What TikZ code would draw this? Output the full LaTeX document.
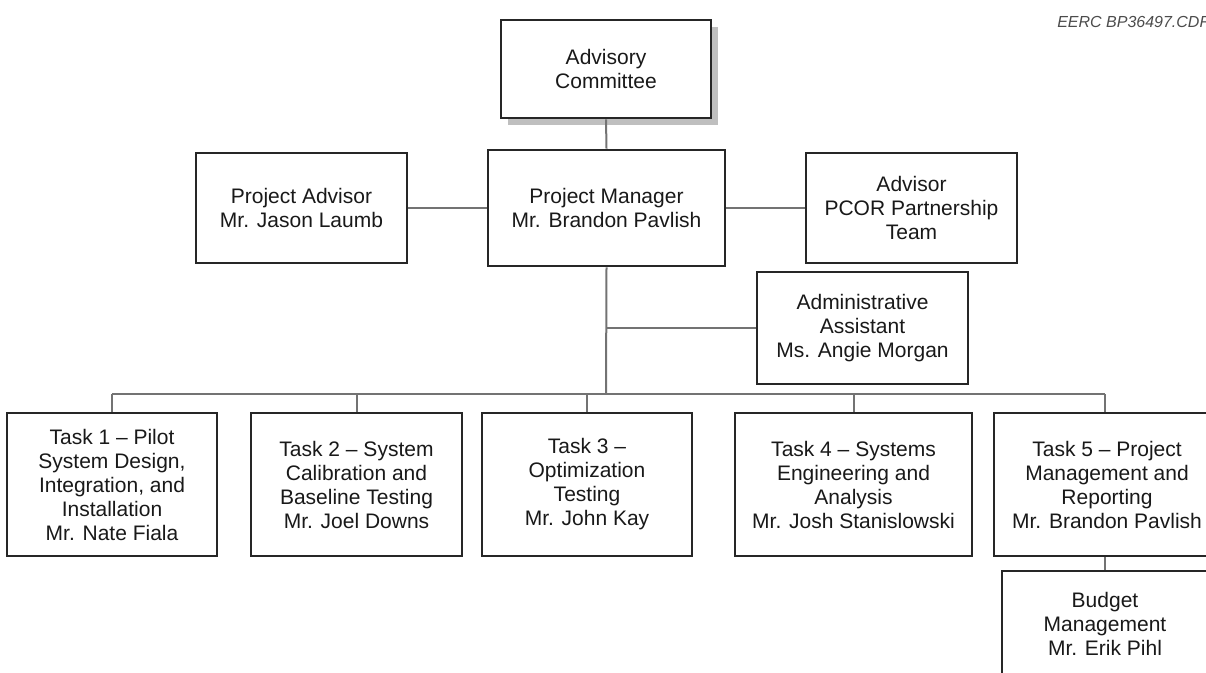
\documentclass[tikz,border=0pt]{standalone}
\usepackage{fontspec}
\setmainfont{Liberation Sans}
\usetikzlibrary{shadows}

\tikzset{
  orgbox/.style={draw=black!85, line width=2pt, fill=white, inner sep=0pt,
    align=center, text=black!90, font=\fontsize{15.75pt}{18pt}\selectfont},
  link/.style={draw=black!55, line width=1.5pt}
}

\begin{document}
\begin{tikzpicture}[x=0.75pt, y=-0.75pt]
    \useasboundingbox (0,0) rectangle (1206,672);

    % file tag
    \node[anchor=base west, inner sep=0pt, text=black!70,
      font=\fontsize{12pt}{14pt}\selectfont\itshape] (tag) at (1057,27) {EERC BP36497.CDR};

    % top of the chart
    \node[orgbox, minimum width=157.5pt, minimum height=73.5pt,
      drop shadow={opacity=1, fill=black!25, shadow xshift=5pt, shadow yshift=-5pt}]
      (adv) at (606,69) {Advisory\\Committee};
    \node[orgbox, minimum width=177.75pt, minimum height=87pt] (pm) at (606.5,208) {Project Manager\\Mr. Brandon Pavlish};
    \node[orgbox, minimum width=158.25pt, minimum height=82.5pt] (pa) at (301.5,208) {Project Advisor\\Mr. Jason Laumb};
    \node[orgbox, minimum width=158.25pt, minimum height=82.5pt] (pcor) at (911.5,208) {Advisor\\PCOR Partnership\\Team};
    \node[orgbox, minimum width=158.25pt, minimum height=84pt] (admin) at (862.5,328) {Administrative\\Assistant\\Ms. Angie Morgan};

    % tasks
    \node[orgbox, minimum width=157.5pt, minimum height=107.25pt] (t1) at (112,484.5) {Task 1 -- Pilot\\System Design,\\Integration, and\\Installation\\Mr. Nate Fiala};
    \node[orgbox, minimum width=158.25pt, minimum height=107.25pt] (t2) at (356.5,484.5) {Task 2 -- System\\Calibration and\\Baseline Testing\\Mr. Joel Downs};
    \node[orgbox, minimum width=157.5pt, minimum height=107.25pt] (t3) at (587,484.5) {Task 3 --\\Optimization\\Testing\\Mr. John Kay};
    \node[orgbox, minimum width=177.75pt, minimum height=107.25pt] (t4) at (853.5,484.5) {Task 4 -- Systems\\Engineering and\\Analysis\\Mr. Josh Stanislowski};
    \node[orgbox, minimum width=169.5pt, minimum height=107.25pt] (t5) at (1107,484.5) {Task 5 -- Project\\Management and\\Reporting\\Mr. Brandon Pavlish};
    \node[orgbox, minimum width=154.5pt, minimum height=79.5pt] (bud) at (1105,624) {Budget\\Management\\Mr. Erik Pihl};

    % connectors
    \coordinate (hub) at (606,394);
    \draw[link] (adv.south) -- (pm.north);
    \draw[link] (pa.east) -- (pm.west);
    \draw[link] (pm.east) -- (pcor.west);
    \draw[link] (pm.south) -- (hub);
    \draw[link] (pm.south |- admin.west) -- (admin.west);
    \draw[link] (t1.north |- hub) -- (bud.north |- hub);
    \foreach \t in {t1,t2,t3,t4}
      \draw[link] (\t.north |- hub) -- (\t.north);
    \draw[link] (bud.north |- hub) -- (bud.north |- t5.north);
    \draw[link] (bud.north |- t5.south) -- (bud.north);
\end{tikzpicture}
\end{document}
